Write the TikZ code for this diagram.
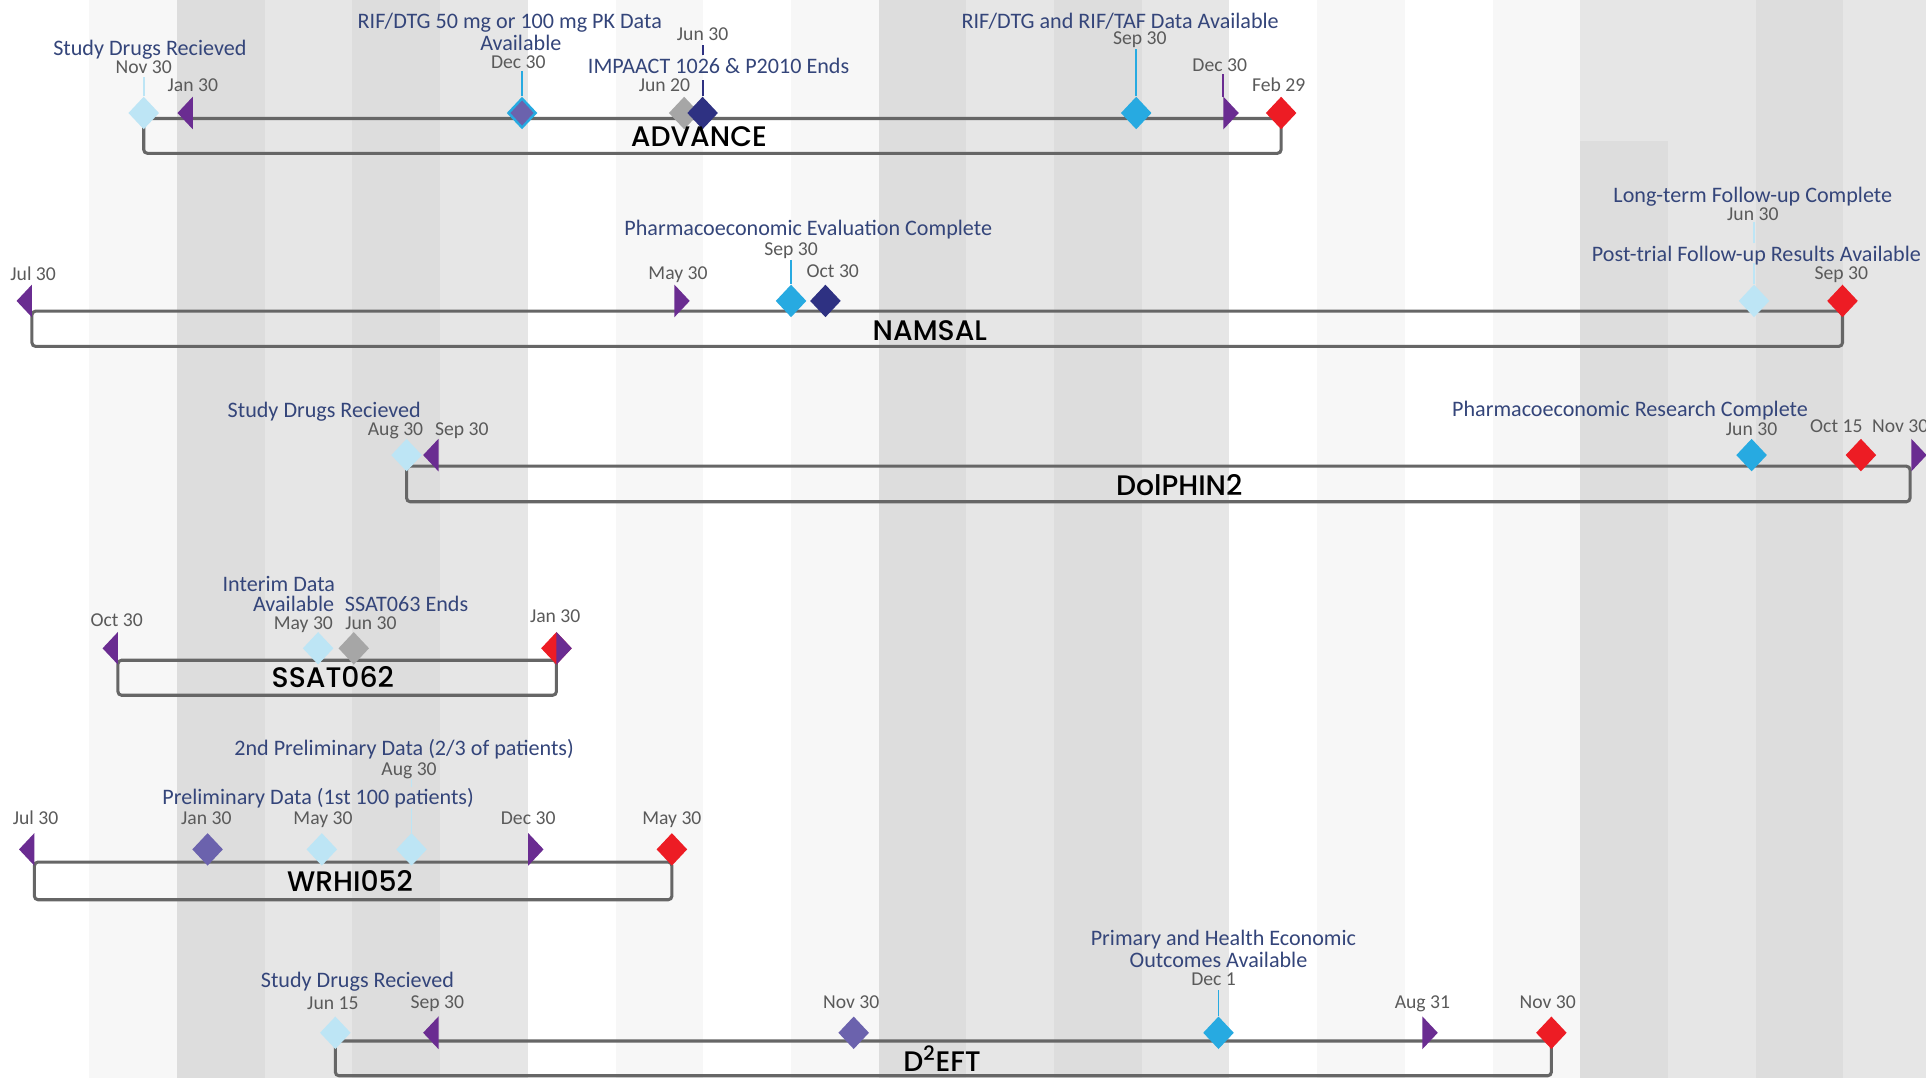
\documentclass[tikz,border=0pt]{standalone}
\usepackage{fontspec}
\setmainfont{Carlito}
\newfontfamily\titlefont{Poppins Medium}
\usetikzlibrary{shapes.geometric}
\definecolor{bgL}{HTML}{F7F7F7}
\definecolor{bgD}{HTML}{DDDDDD}
\definecolor{bgM}{HTML}{E6E6E6}
\definecolor{lb}{HTML}{BDE5F5}
\definecolor{cy}{HTML}{27AAE1}
\definecolor{pu}{HTML}{6A2C91}
\definecolor{vi}{HTML}{6B62AD}
\definecolor{nv}{HTML}{2E3182}
\definecolor{gy}{HTML}{A6A6A6}
\definecolor{rd}{HTML}{ED1C24}
\definecolor{txtblue}{HTML}{34457A}
\definecolor{txtgray}{HTML}{5A5A5A}
\definecolor{linegray}{HTML}{666666}
\newcommand\tril[4]{\coordinate (#1) at (#2,#3);\fill[#4] (#2,#3-13.3) -- (#2,#3+13.3) -- (#2-12.5,#3) -- cycle;}
\newcommand\trir[4]{\coordinate (#1) at (#2,#3);\fill[#4] (#2,#3-13.3) -- (#2,#3+13.3) -- (#2+12.5,#3) -- cycle;}
\tikzset{
 lbl/.style={font=\fontsize{18}{19}\selectfont, text=txtblue, inner sep=0pt, text height=11.6pt, text depth=0pt},
 dt/.style={font=\fontsize{16}{17}\selectfont, text=txtgray, inner sep=0pt, text height=10.3pt, text depth=0pt},
 ttl/.style={font=\titlefont\fontsize{23}{24}\selectfont, text=black, inner sep=0pt, text height=16pt, text depth=0pt},
 bar/.style={draw=linegray, line width=2.5pt, rounded corners=3pt},
 ms/.style={shape=diamond, minimum width=25pt, minimum height=26.6pt, inner sep=0pt, draw=none},
 msin/.style={shape=diamond, minimum width=19pt, minimum height=20.6pt, inner sep=0pt, draw=none},
 lead/.style={line width=1.5pt}
}
\begin{document}
\begin{tikzpicture}[x=1pt,y=-1pt]
\useasboundingbox (0,0) rectangle (1568,878);
% background stripes
\fill[white] (0,0) rectangle (1568,878);
\foreach \a/\b/\c in {72.7/144.1/bgL,144.1/215.5/bgD,215.5/286.9/bgM,286.9/358.3/bgD,358.3/429.7/bgM,
  501.1/572.5/bgL,643.9/715.3/bgL,715.3/786.7/bgD,786.7/858.1/bgM,858.1/929.5/bgD,929.5/1000.9/bgM,
  1072.3/1143.7/bgL,1215.1/1286.5/bgL,1286.5/1357.9/bgD,1357.9/1429.3/bgM,1429.3/1500.7/bgD,1500.7/1568/bgM}
  {\fill[\c] (\a,0) rectangle (\b,878);}
\fill[bgM] (1286.5,0) rectangle (1357.9,115);

% ---------- bars ----------
\coordinate (r1a) at (117,96.5);  \coordinate (r1b) at (1043,124.8);
\coordinate (r2a) at (26,253.3);  \coordinate (r2b) at (1500,282);
\coordinate (r3a) at (331,379.5); \coordinate (r3b) at (1555,408.5);
\coordinate (r4a) at (96,537.5);  \coordinate (r4b) at (453,566);
\coordinate (r5a) at (28,701.8);  \coordinate (r5b) at (547,732.5);
\coordinate (r6a) at (273,847.5); \coordinate (r6b) at (1263,875.8);
\foreach \i in {1,...,6}{\draw[bar] (r\i a) rectangle (r\i b);}

% ---------- row 1: ADVANCE ----------
\node[ms, fill=lb] (a1) at (117,92) {};
\tril{a2}{157}{92}{pu}
\node[ms, fill=cy] (a3) at (425,92) {};
\node[msin, fill=vi] (a3i) at (425,92) {};
\node[ms, fill=gy] (a4) at (557,92) {};
\node[ms, fill=nv] (a5) at (572,92) {};
\node[ms, fill=cy] (a6) at (925,92) {};
\trir{a7}{996}{92}{pu}
\node[ms, fill=rd] (a8) at (1043,92) {};
\coordinate (a1t) at (117,63);
\coordinate (a3t) at (425,58);
\coordinate (a5m) at (572,65);
\coordinate (a5u) at (572,45);
\coordinate (a5t) at (572,37);
\coordinate (a6t) at (925,40);
\coordinate (a7b) at (996,79);
\coordinate (a7t) at (996,60);
\draw[lead, lb] (a1.north) -- (a1t);
\draw[lead, cy] (a3.north) -- (a3t);
\draw[lead, nv] (a5.north) -- (a5m);
\draw[lead, nv] (a5u) -- (a5t);
\draw[lead, cy] (a6.north) -- (a6t);
\draw[lead, pu] (a7b) -- (a7t);

\node[lbl] (a1l) at (122,39) {Study Drugs Recieved};
\node[dt]  (a1d) at (117,55) {Nov 30};
\node[dt]  (a2d) at (157,69) {Jan 30};
\node[lbl] (a3l) at (415,17) {RIF/DTG 50 mg or 100 mg PK Data};
\node[lbl] (a3m) at (424,35) {Available};
\node[dt]  (a3d) at (422,51) {Dec 30};
\node[dt]  (a5d) at (572,28) {Jun 30};
\node[lbl] (a4l) at (585,54) {IMPAACT 1026 \& P2010 Ends};
\node[dt]  (a4d) at (541,69) {Jun 20};
\node[lbl] (a6l) at (912,17) {RIF/DTG and RIF/TAF Data Available};
\node[dt]  (a6d) at (928,31) {Sep 30};
\node[dt]  (a7d) at (993,53) {Dec 30};
\node[dt]  (a8d) at (1041,69) {Feb 29};
\node[ttl] (t1) at (569,111) {ADVANCE};

% ---------- row 2: NAMSAL ----------
\tril{b1}{26}{245}{pu}
\trir{b2}{549}{245}{pu}
\node[ms, fill=cy] (b3) at (644,245) {};
\node[ms, fill=nv] (b4) at (672,245) {};
\node[ms, fill=lb] (b5) at (1428,245) {};
\node[ms, fill=rd] (b6) at (1500,245) {};
\coordinate (b3t) at (644,212);
\coordinate (b5m) at (1428,214);
\coordinate (b5u) at (1428,198);
\coordinate (b5t) at (1428,181);
\draw[lead, cy] (b3.north) -- (b3t);
\draw[lead, lb] (b5.north) -- (b5m);
\draw[lead, lb] (b5u) -- (b5t);
\node[dt]  (b1d) at (27,223) {Jul 30};
\node[dt]  (b2d) at (552,222) {May 30};
\node[lbl] (b3l) at (658,186) {Pharmacoeconomic Evaluation Complete};
\node[dt]  (b3d) at (644,203) {Sep 30};
\node[dt]  (b4d) at (678,221) {Oct 30};
\node[lbl] (b5l) at (1427,159) {Long-term Follow-up Complete};
\node[dt]  (b5d) at (1427,174) {Jun 30};
\node[lbl] (b6l) at (1430,207) {Post-trial Follow-up Results Available};
\node[dt]  (b6d) at (1499,222) {Sep 30};
\node[ttl] (t2) at (757,269) {NAMSAL};

% ---------- row 3: DolPHIN2 ----------
\node[ms, fill=lb] (c1) at (331,370.5) {};
\tril{c2}{357}{370.5}{pu}
\node[ms, fill=cy] (c3) at (1426,370.5) {};
\node[ms, fill=rd] (c4) at (1515,370.5) {};
\trir{c5}{1556}{370.5}{pu}
\node[lbl] (c1l) at (264,334) {Study Drugs Recieved};
\node[dt]  (c1d) at (322,349) {Aug 30};
\node[dt]  (c2d) at (376,349) {Sep 30};
\node[lbl] (c3l) at (1327,333) {Pharmacoeconomic Research Complete};
\node[dt]  (c3d) at (1426,349) {Jun 30};
\node[dt]  (c4d) at (1495,347) {Oct 15};
\node[dt]  (c5d) at (1547,347) {Nov 30};
\node[ttl] (t3) at (960,395) {DolPHIN2};

% ---------- row 4: SSAT062 ----------
\tril{d1}{96}{527.8}{pu}
\node[ms, fill=lb] (d2) at (259,527.8) {};
\node[ms, fill=gy] (d3) at (288,527.8) {};
\node[ms, fill=rd] (d4) at (453,527.8) {};
\trir{d5}{453}{527.8}{pu}
\node[lbl] (d2l) at (227,476) {Interim Data};
\node[lbl] (d2m) at (239,492) {Available};
\node[lbl] (d3l) at (331,492) {SSAT063 Ends};
\node[dt]  (d1d) at (95,505) {Oct 30};
\node[dt]  (d2d) at (247,507) {May 30};
\node[dt]  (d3d) at (302,507) {Jun 30};
\node[dt]  (d4d) at (452,502) {Jan 30};
\node[ttl] (t4) at (271,552) {SSAT062};

% ---------- row 5: WRHI052 ----------
\tril{e1}{28}{691.5}{pu}
\node[ms, fill=vi] (e2) at (169,691.5) {};
\node[ms, fill=lb] (e3) at (262,691.5) {};
\node[ms, fill=lb] (e4) at (335,691.5) {};
\trir{e5}{430}{691.5}{pu}
\node[ms, fill=rd] (e6) at (547,691.5) {};
\coordinate (e4m) at (335,658);
\coordinate (e4u) at (335,641);
\coordinate (e4t) at (335,634);
\draw[lead, lb] (e4.north) -- (e4m);
\draw[lead, lb] (e4u) -- (e4t);
\node[lbl] (e4l) at (329,609) {2nd Preliminary Data (2/3 of patients)};
\node[dt]  (e4d) at (333,626) {Aug 30};
\node[lbl] (e3l) at (259,649) {Preliminary Data (1st 100 patients)};
\node[dt]  (e1d) at (29,666) {Jul 30};
\node[dt]  (e2d) at (168,666) {Jan 30};
\node[dt]  (e3d) at (263,666) {May 30};
\node[dt]  (e5d) at (430,666) {Dec 30};
\node[dt]  (e6d) at (547,666) {May 30};
\node[ttl] (t5) at (285,718) {WRHI052};

% ---------- row 6: D2EFT ----------
\node[ms, fill=lb] (f1) at (273,840.8) {};
\tril{f2}{357}{840.8}{pu}
\node[ms, fill=vi] (f3) at (695,840.8) {};
\node[ms, fill=cy] (f4) at (992,840.8) {};
\trir{f5}{1158}{840.8}{pu}
\node[ms, fill=rd] (f6) at (1263,840.8) {};
\coordinate (f4t) at (992,806);
\draw[lead, cy] (f4.north) -- (f4t);
\node[lbl] (f4l) at (996,764) {Primary and Health Economic};
\node[lbl] (f4m) at (992,782) {Outcomes Available};
\node[dt]  (f4d) at (988,797) {Dec 1};
\node[lbl] (f1l) at (291,798) {Study Drugs Recieved};
\node[dt]  (f1d) at (271,817) {Jun 15};
\node[dt]  (f2d) at (356,816) {Sep 30};
\node[dt]  (f3d) at (693,816) {Nov 30};
\node[dt]  (f5d) at (1158,816) {Aug 31};
\node[dt]  (f6d) at (1260,816) {Nov 30};
\node[ttl] (t6) at (767,864) {D\textsuperscript{2}EFT};
\end{tikzpicture}
\end{document}
